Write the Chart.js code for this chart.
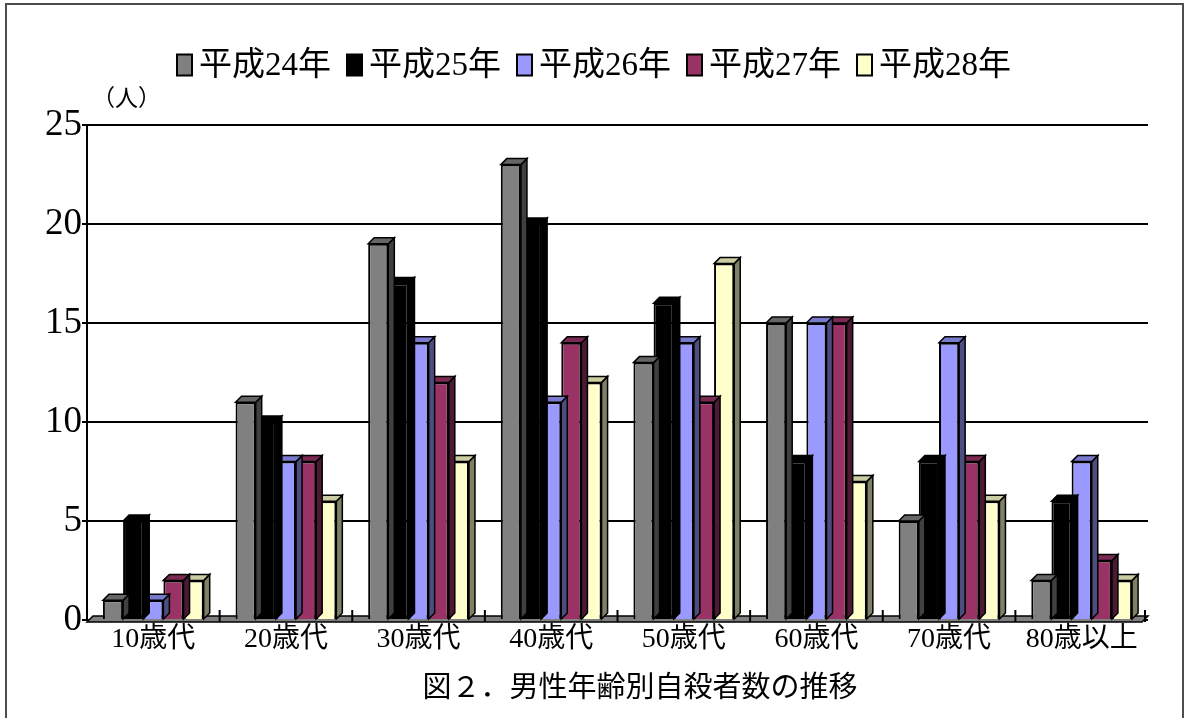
<!DOCTYPE html>
<html lang="ja">
<head>
<meta charset="utf-8">
<title>男性年齢別自殺者数の推移</title>
<script src="https://cdn.jsdelivr.net/npm/chart.js@4.4.1/dist/chart.umd.min.js"></script>
<style>
  html, body { margin: 0; padding: 0; background: #ffffff; }
  #wrap { width: 1185px; height: 718px; }
</style>
</head>
<body>
<div id="wrap"><canvas id="chart" width="1185" height="718"></canvas></div>
<script>
// Age groups along the category axis
const categories = ['10歳代', '20歳代', '30歳代', '40歳代', '50歳代', '60歳代', '70歳代', '80歳以上'];
// One series per year
const seriesLabels = ['平成24年', '平成25年', '平成26年', '平成27年', '平成28年'];
const h24 = [1, 11, 19, 23, 13, 15, 5, 2];
const h25 = [5, 10, 17, 20, 16, 8, 8, 6];
const h26 = [1, 8, 14, 11, 14, 15, 14, 8];
const h27 = [2, 8, 12, 14, 11, 15, 8, 3];
const h28 = [2, 6, 8, 12, 18, 7, 6, 2];
const yTicks = [0, 5, 10, 15, 20, 25];
const unitLabel = '（人）';
const chartTitle = '図２．男性年齢別自殺者数の推移';

const seriesValues = [h24, h25, h26, h27, h28];
const frontColors = ['#808080', '#000000', '#9999ff', '#993366', '#ffffcc'];
const topColors   = ['#666666', '#000000', '#7a7acc', '#7a2952', '#cccca3'];
const sideColors  = ['#404040', '#000000', '#4d4d80', '#4d1a33', '#808066'];

const serifCJK = "'Liberation Serif', 'Noto Sans CJK JP', serif";
const DEPTH = 6;

// Top and right faces of each bar, drawn just before the library paints the fronts
const barFaces = {
  id: 'barFaces',
  beforeDatasetDraw(chart, args) {
    const ctx = chart.ctx;
    const i = args.index;
    args.meta.data.forEach(bar => {
      const p = bar.getProps(['x', 'y', 'base', 'width'], true);
      const l = p.x - p.width / 2, r = p.x + p.width / 2;
      ctx.save();
      ctx.lineWidth = 1.5;
      ctx.strokeStyle = '#000';
      ctx.beginPath();
      ctx.moveTo(r, p.y);
      ctx.lineTo(r + DEPTH, p.y - DEPTH);
      ctx.lineTo(r + DEPTH, p.base - DEPTH);
      ctx.lineTo(r, p.base);
      ctx.closePath();
      ctx.fillStyle = sideColors[i];
      ctx.fill();
      ctx.stroke();
      ctx.beginPath();
      ctx.moveTo(l, p.y);
      ctx.lineTo(l + DEPTH, p.y - DEPTH);
      ctx.lineTo(r + DEPTH, p.y - DEPTH);
      ctx.lineTo(r, p.y);
      ctx.closePath();
      ctx.fillStyle = topColors[i];
      ctx.fill();
      ctx.stroke();
      ctx.restore();
    });
  }
};

// Floor slab along the category axis, with boundary ticks between age groups
const floorSlab = {
  id: 'floorSlab',
  beforeDatasetsDraw(chart) {
    const ctx = chart.ctx;
    const a = chart.chartArea;
    const xs = chart.scales.x;
    const front = a.bottom + 2, back = a.bottom - 4;
    ctx.save();
    ctx.beginPath();
    ctx.moveTo(a.left, front);
    ctx.lineTo(a.left + DEPTH, back);
    ctx.lineTo(a.right, back);
    ctx.lineTo(a.right - DEPTH, front);
    ctx.closePath();
    ctx.fillStyle = '#808080';
    ctx.fill();
    ctx.lineWidth = 1.5;
    ctx.strokeStyle = '#000';
    ctx.stroke();
    ctx.lineWidth = 2;
    for (let k = 0; k < categories.length; k++) {
      const bx = (k + 1 < categories.length)
        ? (xs.getPixelForValue(k) + xs.getPixelForValue(k + 1)) / 2
        : a.right - DEPTH / 2;
      ctx.beginPath();
      ctx.moveTo(bx, back - 6);
      ctx.lineTo(bx, front);
      ctx.stroke();
    }
    ctx.restore();
  }
};

// Frame, legend row, unit label and caption
const decorations = {
  id: 'decorations',
  beforeDraw(chart) {
    const ctx = chart.ctx;
    ctx.save();
    ctx.fillStyle = '#ffffff';
    ctx.fillRect(0, 0, chart.width, chart.height);
    ctx.restore();
  },
  afterDraw(chart) {
    const ctx = chart.ctx;
    ctx.save();
    // outer frame
    ctx.strokeStyle = '#4d4d4d';
    ctx.lineWidth = 2;
    ctx.strokeRect(6, 4, 1177, 730);

    // legend
    ctx.font = '33px ' + serifCJK;
    ctx.textBaseline = 'middle';
    ctx.textAlign = 'left';
    const boxW = 15, boxH = 21, gap = 7, spacing = 16;
    const widths = seriesLabels.map(t => ctx.measureText(t).width);
    const total = widths.reduce((s, w) => s + boxW + gap + w, 0) + spacing * (seriesLabels.length - 1);
    let x = 594 - total / 2;
    const cy = 65;
    seriesLabels.forEach((t, i) => {
      ctx.fillStyle = frontColors[i];
      ctx.fillRect(x, cy - boxH / 2, boxW, boxH);
      ctx.strokeStyle = '#000';
      ctx.lineWidth = 2;
      ctx.strokeRect(x, cy - boxH / 2, boxW, boxH);
      ctx.fillStyle = '#000';
      ctx.fillText(t, x + boxW + gap, cy + 1);
      x += boxW + gap + widths[i] + spacing;
    });

    // unit
    ctx.font = '23px ' + serifCJK;
    ctx.fillText(unitLabel, 92, 100);

    // caption
    ctx.font = '29px ' + serifCJK;
    ctx.textAlign = 'center';
    ctx.fillText(chartTitle, 640, 689);
    ctx.restore();
  }
};

const datasets = seriesLabels.map((label, i) => ({
  label,
  data: seriesValues[i],
  backgroundColor: frontColors[i],
  borderColor: '#000000',
  borderWidth: 2,
  categoryPercentage: 0.76,
  barPercentage: 1.0
}));

new Chart(document.getElementById('chart'), {
  type: 'bar',
  data: { labels: categories, datasets },
  options: {
    responsive: false,
    animation: false,
    layout: { padding: { left: 0, right: 37, top: 125, bottom: 0 } },
    plugins: {
      legend: { display: false },
      title: { display: false },
      tooltip: { enabled: false }
    },
    scales: {
      x: {
        grid: { display: false, drawTicks: false },
        border: { display: false },
        ticks: {
          color: '#000',
          font: { family: serifCJK, size: 28 },
          padding: 3,
          maxRotation: 0,
          autoSkip: false
        },
        afterFit(s) { s.height = 98; }
      },
      y: {
        min: 0,
        max: 25,
        afterBuildTicks(s) { s.ticks = yTicks.map(v => ({ value: v })); },
        grid: { color: '#000', lineWidth: 2, drawTicks: true, tickLength: 5, tickColor: '#000' },
        border: { display: true, color: '#000', width: 2 },
        ticks: {
          color: '#000',
          font: { family: serifCJK, size: 37 },
          padding: 0
        },
        afterFit(s) { s.width = 87; }
      }
    }
  },
  plugins: [decorations, floorSlab, barFaces]
});
</script>
</body>
</html>
